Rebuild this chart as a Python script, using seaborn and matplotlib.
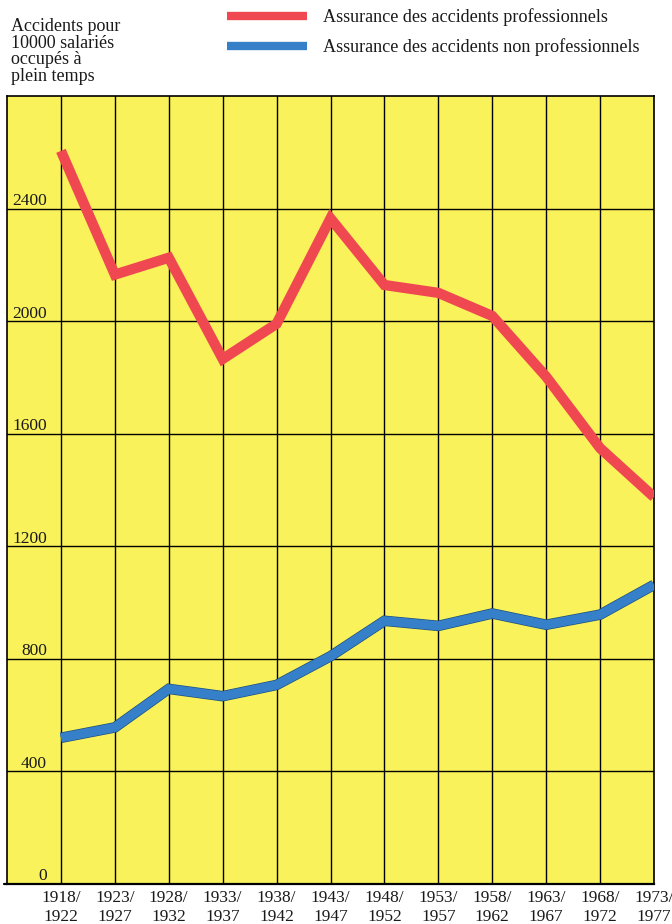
import numpy as np
import pandas as pd
import matplotlib
matplotlib.use('Agg')
import matplotlib.pyplot as plt
import matplotlib.patheffects as pe
from matplotlib.lines import Line2D
from matplotlib.transforms import blended_transform_factory
import seaborn as sns

# 데이터
periods = ['1918/\n1922', '1923/\n1927', '1928/\n1932', '1933/\n1937', '1938/\n1942', '1943/\n1947',
           '1948/\n1952', '1953/\n1957', '1958/\n1962', '1963/\n1967', '1968/\n1972', '1973/\n1977']
professionnels = [2605, 2165, 2225, 1865, 1990, 2365, 2128, 2100, 2018, 1802, 1548, 1374]
non_professionnels = [518, 555, 692, 666, 706, 808, 934, 916, 960, 920, 956, 1062]
y_ticks = [0, 400, 800, 1200, 1600, 2000, 2400]

label_pro = 'Assurance des accidents professionnels'
label_non = 'Assurance des accidents non professionnels'
ylabel_txt = 'Accidents pour\n10000 salariés\noccupés à\nplein temps'

RED = '#ef4851'
BLUE = '#3580c8'
YELLOW = '#faf25b'
TXT = '#1a1a1a'

sns.set_style('ticks')
plt.rcParams['font.family'] = ['Liberation Serif', 'DejaVu Serif']

df = pd.DataFrame({
    'idx': list(range(len(periods))) * 2,
    'valeur': professionnels + non_professionnels,
    'serie': [label_pro] * len(periods) + [label_non] * len(periods),
})

W, H = 672, 924
fig = plt.figure(figsize=(W / 100, H / 100), dpi=100)
left, right, top, bottom = 7, 654, 96, 883.5
ax = fig.add_axes([left / W, 1 - bottom / H, (right - left) / W, (bottom - top) / H])
ax.set_facecolor(YELLOW)

sns.lineplot(data=df[df['serie'] == label_pro], x='idx', y='valeur', color=RED,
             linewidth=7.4, ax=ax, zorder=3, solid_joinstyle='miter', solid_capstyle='butt')
line_blue = sns.lineplot(data=df[df['serie'] == label_non], x='idx', y='valeur', color=BLUE,
                         linewidth=6.6, ax=ax, zorder=3, solid_joinstyle='miter',
                         solid_capstyle='butt').lines[-1]
line_blue.set_path_effects([pe.Stroke(linewidth=7.6, foreground='#1d4f80', capstyle='butt'),
                            pe.Normal()])

ax.set_xlim(-1, len(periods) - 1)
ax.set_ylim(0, 2800)
ax.set_xticks(range(len(periods)))
ax.set_xticklabels(periods, fontsize=12.5, linespacing=1.25)
ax.set_yticks(y_ticks[1:])
ax.set_yticklabels([])
ax.tick_params(axis='both', length=0)
ax.tick_params(axis='x', pad=5, colors=TXT)
ax.grid(True, color='black', linewidth=1.0)
for ln in ax.get_xgridlines() + ax.get_ygridlines():
    ln.set_zorder(2)
for s in ax.spines.values():
    s.set_color('black')
    s.set_linewidth(1.2)
ax.spines['bottom'].set_linewidth(1.6)
ax.set_xlabel('')
ax.set_ylabel('')

# 바닥선은 왼쪽으로 조금 더 나감
fig.add_artist(Line2D([4 / W, left / W], [1 - bottom / H] * 2, color='black', linewidth=1.6))

# y 눈금 라벨은 그래프 안쪽에
trans = blended_transform_factory(ax.transAxes, ax.transData)
for v in y_ticks:
    ax.text((47 - left) / (right - left), v - 2, str(v), transform=trans,
            ha='right', va='bottom', fontsize=12.5, color=TXT, zorder=4)

# 제목(축 이름)
fig.text(11 / W, 1 - 18 / H, ylabel_txt, ha='left', va='top', fontsize=13,
         linespacing=0.98, color=TXT)

# 범례
for yy, col, lab in [(16, RED, label_pro), (46, BLUE, label_non)]:
    fig.add_artist(Line2D([227 / W, 307 / W], [1 - yy / H] * 2, color=col, linewidth=6,
                          solid_capstyle='butt'))
    fig.text(323 / W, 1 - (yy + 1) / H, lab, ha='left', va='center', fontsize=13.1, color=TXT)

fig.savefig('out.png', dpi=100)
